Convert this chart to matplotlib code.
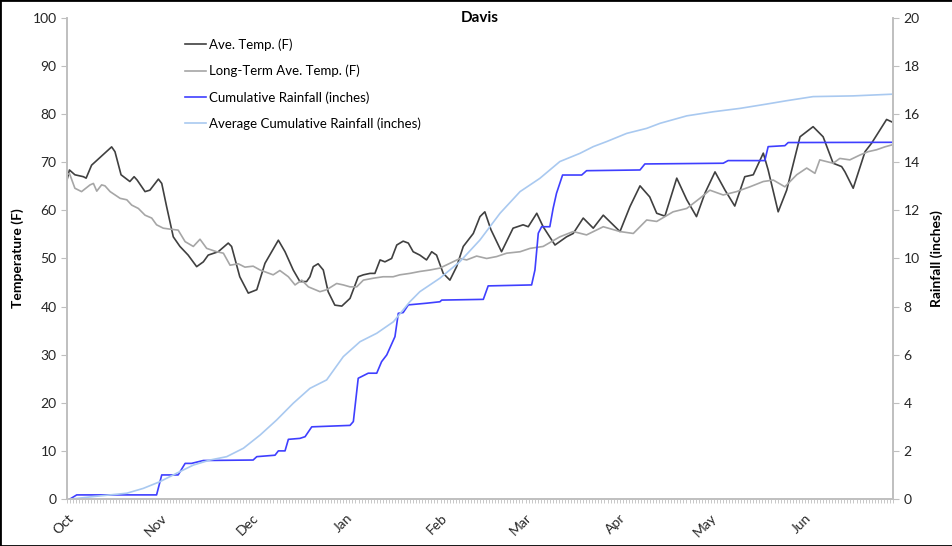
import numpy as np
import matplotlib
matplotlib.use('Agg')
import matplotlib.pyplot as plt
from matplotlib.patches import Rectangle

plt.rcParams['font.family'] = ['Lato', 'DejaVu Sans']

# days counted from Oct 1
month_days = [0, 31, 61, 92, 123, 151, 182, 212, 243]
month_labels = ['Oct', 'Nov', 'Dec', 'Jan', 'Feb', 'Mar', 'Apr', 'May', 'Jun']

# Ave. Temp. (F)
temp_days = [0, 0.8, 2.6, 5.4, 6.3, 8.1, 14.7, 15.8, 17.8, 20.7, 22.1, 23.1, 25.7, 27.3,
             30.1, 31.2, 32.8, 35.0, 37.2, 39.9, 42.7, 44.9, 46.5, 49.8, 53.1, 54.2, 56.9,
             59.7, 62.5, 65.2, 69.6, 71.8, 74.5, 76.7, 78.9, 80.0, 81.1, 82.7, 84.4, 86.0,
             88.2, 90.5, 93.2, 95.9, 97.6, 99.8, 101.4, 103.1, 104.7, 106.9, 108.6, 110.7,
             112.4, 114.0, 116.2, 118.4, 120.1, 121.7, 123.9, 126.1, 128.3, 130.5, 133.8,
             136.0, 137.6, 139.6, 143.1, 146.9, 150.2, 151.9, 154.7, 156.8, 160.7, 164.5,
             166.7, 170.0, 173.3, 176.6, 182.1, 185.4, 188.7, 191.9, 194.2, 196.9, 200.8,
             204.1, 207.3, 210.1, 213.4, 216.7, 219.9, 223.2, 226.0, 229.3, 230.9, 234.2,
             237.0, 241.4, 245.7, 249.0, 252.3, 255.1, 256.2, 258.9, 262.8, 265.0, 267.7,
             269.9, 271.6]
temp_vals = [66.3, 68.4, 67.4, 67.0, 66.7, 69.4, 73.2, 72.2, 67.4, 66.0, 67.0, 66.3, 63.9, 64.2,
             66.5, 65.6, 60.8, 54.5, 52.5, 50.7, 48.3, 49.3, 50.7, 51.4, 53.2, 52.5, 46.2,
             42.8, 43.5, 49.0, 53.8, 51.4, 47.6, 45.2, 45.2, 46.2, 48.3, 48.9, 47.6, 43.1,
             40.3, 40.1, 41.7, 46.2, 46.6, 46.9, 46.9, 49.7, 49.3, 50.0, 52.8, 53.6,
             53.2, 51.4, 50.7, 49.7, 51.4, 50.7, 46.9, 45.5, 48.3, 52.5, 55.2,
             58.7, 59.7, 56.0, 51.4, 56.3, 57.0, 56.6, 59.4, 56.6, 52.8, 54.5,
             55.2, 58.4, 56.3, 59.0, 55.6, 60.8, 65.1, 62.8, 59.4, 58.8, 66.7,
             62.2, 58.7, 63.6, 68.0, 64.2, 60.9, 67.0, 67.4, 71.9, 68.4, 59.7,
             64.2, 75.3, 77.4, 75.3, 69.8, 69.1, 68.0, 64.6, 72.2, 74.0, 76.7,
             78.9, 78.4]

# Long-Term Ave. Temp. (F)
lt_days = [0, 0.8, 2.6, 4.8, 7.6, 8.7, 9.8, 11.4, 12.5, 14.2, 17.5, 19.7, 21.3, 23.5, 25.7,
           27.9, 29.5, 31.7, 33.9, 36.6, 38.9, 41.6, 43.8, 46.0, 49.3, 51.5, 53.7, 56.4, 58.6,
           61.3, 63.6, 67.9, 70.1, 72.9, 75.1, 77.3, 79.5, 83.3, 85.5, 88.8, 91.0, 93.2, 95.4,
           97.6, 100.9, 104.1, 107.4, 109.6, 112.9, 116.2, 119.5, 122.8, 126.1, 129.4, 131.6,
           134.9, 138.2, 141.5, 144.8, 149.2, 152.5, 156.8, 162.3, 166.7, 171.1, 176.6, 182.1,
           186.5, 190.9, 194.2, 199.6, 204.1, 208.4, 211.7, 216.1, 220.5, 224.9, 229.3, 232.6,
           236.4, 240.3, 243.6, 246.3, 247.9, 252.3, 254.5, 257.8, 261.1, 263.8, 266.6, 269.3,
           271.6]
lt_vals = [67.4, 67.7, 64.6, 63.9, 65.3, 65.6, 64.0, 65.3, 65.1, 63.9, 62.5, 62.2, 61.1, 60.4, 59.0,
           58.4, 57.0, 56.3, 56.1, 55.9, 53.5, 52.5, 54.0, 52.1, 51.4, 51.1, 48.6, 48.9, 48.2,
           48.4, 47.6, 46.6, 47.5, 46.2, 44.5, 45.5, 44.1, 43.1, 43.5, 44.8, 44.5, 44.1, 44.1,
           45.5, 45.9, 46.2, 46.2, 46.6, 46.9, 47.3, 47.6, 48.0, 49.0, 50.0, 49.7,
           50.5, 50.0, 50.4, 51.1, 51.4, 52.1, 52.5, 54.5, 55.6, 54.9, 56.6, 55.6,
           55.2, 58.0, 57.7, 59.7, 60.4, 62.5, 64.2, 63.2, 63.9, 64.9, 66.0, 66.3,
           64.9, 67.4, 68.8, 67.7, 70.5, 69.8, 70.8, 70.5, 71.5, 72.2, 72.6, 73.2,
           73.6]

# Cumulative Rainfall (inches)
rain_days = [1.0, 3.2, 29.5, 31.2, 36.6, 38.9, 41.0, 44.9, 61.3, 62.5, 68.5, 69.6, 71.8, 72.9,
             76.7, 78.4, 80.6, 93.2, 94.3, 95.9, 97.0, 99.2, 102.0, 103.6, 105.3, 108.0, 109.1,
             110.7, 112.4, 118.4, 122.8, 123.4, 137.1, 138.7, 153.0, 154.1, 155.2, 156.3, 159.0,
             160.1, 161.2, 163.2, 169.5, 171.1, 188.7, 190.3, 216.1, 217.7, 229.8, 230.9, 236.4,
             237.5, 271.6]
rain_vals = [0.0, 0.17, 0.17, 1.0, 1.0, 1.48, 1.48, 1.6, 1.62, 1.76, 1.82, 2.0, 2.0, 2.48,
             2.52, 2.59, 3.0, 3.06, 3.22, 5.02, 5.09, 5.23, 5.23, 5.71, 5.99, 6.75, 7.72,
             7.75, 8.07, 8.14, 8.2, 8.27, 8.3, 8.86, 8.9, 9.52, 11.05, 11.32, 11.32,
             12.09, 12.71, 13.47, 13.47, 13.65, 13.68, 13.93, 13.96, 14.07, 14.07, 14.65, 14.69,
             14.82, 14.83]

# Average Cumulative Rainfall (inches)
avg_days = [1.5, 8.7, 14.2, 19.7, 25.1, 30.6, 36.1, 41.6, 47.1, 52.6, 58.1, 63.6, 69.0, 74.5,
            80.0, 85.5, 91.0, 96.5, 102.0, 107.5, 112.9, 116.2, 122.8, 129.4, 136.0, 142.6,
            149.2, 155.7, 162.3, 168.9, 173.3, 177.7, 184.3, 190.9, 195.3, 204.1, 212.8, 221.6,
            230.4, 237.0, 245.7, 258.9, 271.6]
avg_vals = [0.0, 0.1, 0.17, 0.24, 0.44, 0.72, 1.07, 1.41, 1.62, 1.76, 2.11, 2.66, 3.28, 3.98,
            4.6, 4.95, 5.92, 6.54, 6.89, 7.37, 8.2, 8.62, 9.18, 9.87, 10.77, 11.88,
            12.78, 13.33, 14.03, 14.37, 14.65, 14.86, 15.2, 15.41, 15.62, 15.93, 16.1, 16.24,
            16.42, 16.56, 16.73, 16.76, 16.83]

fig = plt.figure(figsize=(9.53, 5.46), dpi=100)
ax = fig.add_axes([0.0703, 0.0861, 0.8667, 0.881])
ax2 = ax.twinx()

l1, = ax.plot(temp_days, temp_vals, color='#404040', lw=1.2, label='Ave. Temp. (F)')
l2, = ax.plot(lt_days, lt_vals, color='#A6A6A6', lw=1.2, label='Long-Term Ave. Temp. (F)')
l3, = ax2.plot(rain_days, rain_vals, color='#3F3FFF', lw=1.2, label='Cumulative Rainfall (inches)')
l4, = ax2.plot(avg_days, avg_vals, color='#A9C9F0', lw=1.2, label='Average Cumulative Rainfall (inches)')

ax.set_xlim(0, 272)
ax.set_ylim(0, 100)
ax2.set_ylim(0, 20)
ax.set_yticks(np.arange(0, 101, 10))
ax2.set_yticks(np.arange(0, 21, 2))
ax.set_xticks(month_days)
ax.set_xticklabels(month_labels, rotation=45, ha='right', rotation_mode='anchor')
ax.set_xticks(np.arange(0, 273), minor=True)

for a in (ax, ax2):
    for s in a.spines.values():
        s.set_color('#BFBFBF')
        s.set_linewidth(1.2)
    a.spines['top'].set_visible(False)
    a.tick_params(colors='#BFBFBF', labelcolor='#262626', labelsize=10, length=4, width=0.8)
ax.tick_params(axis='x', which='both', length=3, width=0.6, pad=6)
ax.tick_params(axis='x', which='minor', colors='#BFBFBF')

ax.set_ylabel('Temperature (F)', fontsize=10, fontweight='bold', labelpad=6)
ax2.set_ylabel('Rainfall (inches)', fontsize=10, fontweight='bold', labelpad=8)

fig.text(480 / 953, 1 - 18 / 546, 'Davis', ha='center', va='center', fontsize=11, fontweight='bold')

ax.legend(handles=[l1, l2, l3, l4], loc='upper left', bbox_to_anchor=(180 / 953, 1 - 33 / 546),
          bbox_transform=fig.transFigure, frameon=False, fontsize=9.5, handlelength=1.6,
          handletextpad=0.2, labelspacing=1.05, borderaxespad=0)

fig.patches.append(Rectangle((0, 0), 1, 1, transform=fig.transFigure, fill=False,
                             edgecolor='black', linewidth=2))

fig.savefig('out.png', dpi=100)
